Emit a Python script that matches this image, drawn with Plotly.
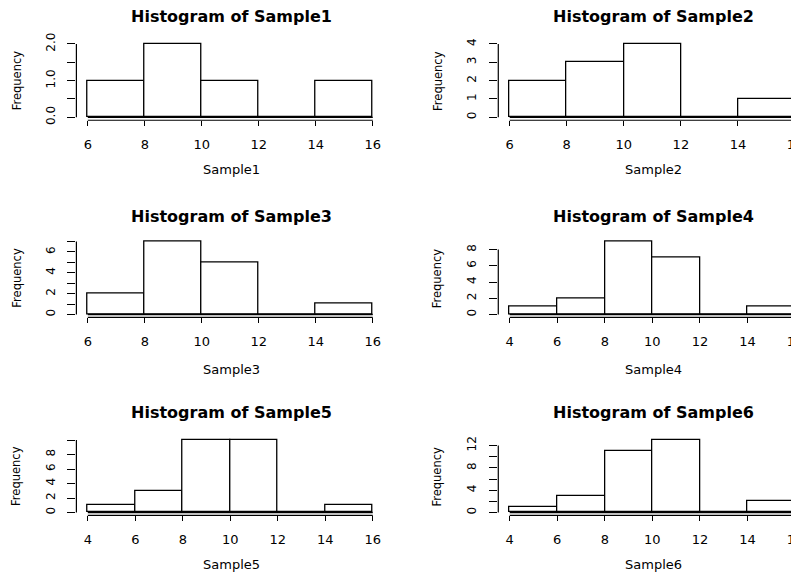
import plotly.graph_objects as go

# ---- data ----
names = ["Sample1", "Sample2", "Sample3", "Sample4", "Sample5", "Sample6"]
breaks1 = [6, 8, 10, 12, 14, 16]
breaks2 = [6, 8, 10, 12, 14, 16]
breaks3 = [6, 8, 10, 12, 14, 16]
breaks4 = [4, 6, 8, 10, 12, 14, 16]
breaks5 = [4, 6, 8, 10, 12, 14, 16]
breaks6 = [4, 6, 8, 10, 12, 14, 16]
counts1 = [1, 2, 1, 0, 1]
counts2 = [2, 3, 4, 0, 1]
counts3 = [2, 7, 5, 0, 1]
counts4 = [1, 2, 9, 7, 0, 1]
counts5 = [1, 3, 10, 10, 0, 1]
counts6 = [1, 3, 11, 13, 0, 2]
yticks1 = [0, 0.5, 1, 1.5, 2]
ylabels1 = ["0.0", "", "1.0", "", "2.0"]
yticks2 = [0, 1, 2, 3, 4]
ylabels2 = ["0", "1", "2", "3", "4"]
yticks3 = [0, 1, 2, 3, 4, 5, 6, 7]
ylabels3 = ["0", "", "2", "", "4", "", "6", ""]
yticks4 = [0, 2, 4, 6, 8]
ylabels4 = ["0", "2", "4", "6", "8"]
yticks5 = [0, 2, 4, 6, 8, 10]
ylabels5 = ["0", "2", "4", "6", "8", ""]
yticks6 = [0, 2, 4, 6, 8, 10, 12]
ylabels6 = ["0", "", "4", "", "8", "", "12"]

panels = [
    (names[0], breaks1, counts1, yticks1, ylabels1),
    (names[1], breaks2, counts2, yticks2, ylabels2),
    (names[2], breaks3, counts3, yticks3, ylabels3),
    (names[3], breaks4, counts4, yticks4, ylabels4),
    (names[4], breaks5, counts5, yticks5, ylabels5),
    (names[5], breaks6, counts6, yticks6, ylabels6),
]

# ---- layout geometry (screen pixels, page body has an 8px margin) ----
W, H = 799, 574
OFF = 8.0
col_px = [(87.8, 372.8), (509.7, 795.0)]      # first / last break
row_px = [(117.3, 44.0), (314.5, 241.5), (512.5, 440.0)]  # zero / max
title_y = [17.0, 216.7, 412.3]
xtitle_y = [169.0, 369.0, 564.0]
ytitle_x = [16.7, 437.3]

TICKFONT = dict(family="DejaVu Sans", size=13, color="black")
YTICKFONT = dict(family="DejaVu Sans", size=12, color="black")
LBLFONT = dict(family="DejaVu Sans", size=13, color="black")
TITLEFONT = dict(family="DejaVu Sans", size=16, color="black", weight="bold")


def fx(px):
    return (px - OFF) / W


def fy(px):
    return 1 - (px - OFF) / H


fig = go.Figure()
annotations = []
shapes = []

for i, (name, br, ct, yt, yl) in enumerate(panels):
    r, c = divmod(i, 2)
    ax = "" if i == 0 else str(i + 1)
    xa, ya = "x" + ax, "y" + ax

    b0, b1 = br[0], br[-1]
    p0, p1 = col_px[c]
    sx = (p1 - p0) / (b1 - b0)
    xpad = 0.04 * (b1 - b0)
    left_px = p0 - xpad * sx
    full_right_px = p1 + xpad * sx
    right_px = min(full_right_px, W + OFF)
    xrange = [b0 - xpad, b1 + (right_px - p1) / sx]

    ymax = max(ct)
    z_px, t_px = row_px[r]
    sy = (z_px - t_px) / ymax
    ypad = 0.04 * ymax
    bot_px = z_px + ypad * sy
    top_px = t_px - ypad * sy

    mids = [(br[k] + br[k + 1]) / 2 for k in range(len(ct))]
    widths = [br[k + 1] - br[k] for k in range(len(ct))]

    fig.add_trace(go.Bar(
        x=mids, y=ct, width=widths, xaxis=xa, yaxis=ya,
        marker=dict(color="white", line=dict(color="black", width=1.3)),
        showlegend=False, hoverinfo="x+y", cliponaxis=False,
    ))
    # baseline of the histogram (covers empty bins)
    fig.add_trace(go.Scatter(
        x=[b0, b1], y=[0, 0], xaxis=xa, yaxis=ya, mode="lines",
        line=dict(color="black", width=1.3), showlegend=False, hoverinfo="skip",
    ))

    xkey = "xaxis" + ax
    ykey = "yaxis" + ax
    fig.layout[xkey] = dict(
        domain=[fx(left_px), fx(right_px)], range=xrange, anchor=ya,
        showgrid=False, zeroline=False, showline=False, automargin=False,
        tickmode="array", tickvals=br, ticktext=[str(v) for v in br],
        ticks="outside", ticklen=5, tickwidth=1.2, tickcolor="black",
        tickfont=TICKFONT, ticklabelstandoff=7, fixedrange=True,
    )
    fig.layout[ykey] = dict(
        domain=[fy(bot_px), fy(top_px)], range=[-ypad, ymax + ypad], anchor=xa,
        showgrid=False, zeroline=False, showline=False, automargin=False,
        tickmode="array", tickvals=yt, ticktext=yl, tickangle=-90,
        ticks="outside", ticklen=8, tickwidth=1.2, tickcolor="black",
        tickfont=YTICKFONT, ticklabelstandoff=8, fixedrange=True,
    )
    # R-style detached axis lines spanning first to last tick
    shapes.append(dict(type="line", xref=xa, yref=ya + " domain",
                       x0=b0, x1=b1, y0=0, y1=0,
                       line=dict(color="black", width=1.2)))
    shapes.append(dict(type="line", xref=xa + " domain", yref=ya,
                       x0=0, x1=0, y0=yt[0], y1=yt[-1],
                       line=dict(color="black", width=1.2)))

    cx = fx((left_px + full_right_px) / 2 + 1.5)
    annotations.append(dict(text="Histogram of " + name, xref="paper", yref="paper",
                            x=cx, y=fy(title_y[r]), xanchor="center", yanchor="middle",
                            showarrow=False, font=TITLEFONT))
    annotations.append(dict(text=name, xref="paper", yref="paper",
                            x=cx, y=fy(xtitle_y[r]), xanchor="center", yanchor="middle",
                            showarrow=False, font=LBLFONT))
    annotations.append(dict(text="Frequency", xref="paper", yref="paper",
                            x=fx(ytitle_x[c]), y=fy((bot_px + top_px) / 2),
                            xanchor="center", yanchor="middle", textangle=-90,
                            showarrow=False, font=dict(family="DejaVu Sans", size=11.5, color="black")))

fig.update_layout(
    width=W, height=H, margin=dict(l=0, r=0, t=0, b=0, autoexpand=False),
    paper_bgcolor="white", plot_bgcolor="white",
    annotations=annotations, shapes=shapes, bargap=0, barmode="overlay",
)

fig.write_html("out.html")
